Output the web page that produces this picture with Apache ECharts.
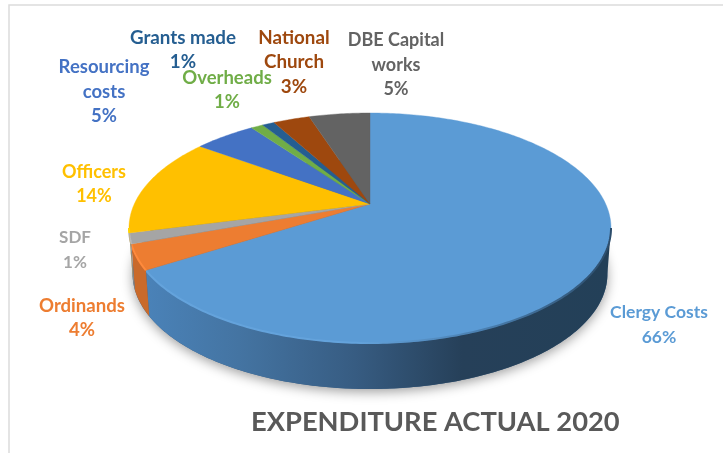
<!DOCTYPE html>
<html><head><meta charset="utf-8">
<style>html,body{margin:0;padding:0;background:#fff}#c{width:723px;height:453px}</style>
<script src="https://cdn.jsdelivr.net/npm/echarts@6/dist/echarts.min.js"></script>
</head><body><div id="c"></div>
<script>
const categories = ['Clergy Costs','Ordinands','SDF','Officers','Resourcing\ncosts','Overheads','Grants made','National\nChurch','DBE Capital\nworks'];
const values = [66, 3.5, 1.49, 14, 5, 1, 1, 3, 5];
const colors = ['#5b9bd5','#ed7d31','#a5a5a5','#ffc000','#4472c4','#70ad47','#255e91','#9e480e','#636363'];
const wallColors = ['#3f6f9e','#c96a2b','#8a8a8a','#d9a000','#3a62a8','#5f9440','#1f4f7b','#863d0c','#545454'];
const edgeColors = ['#6aa9e2','#ff8a3c','#b8b8b8','#ffd400','#4472c4','#70ad47','#255e91','#9e480e','#636363'];
const labelCenters = [[659,325],[82,318],[75,250],[94,184],[104,92],[227,90],[183,50],[294,62],[396,65]];
const labelSizes = [17.5,18.6,17,18,18.5,18.5,18.8,18.8,18];

const CX=370, AY=204, K=0.2087, A=110, B=235.7, DEPTH=46, BOTTOM_SCALE=0.985;
const total = values.reduce((a,b)=>a+b,0);
function topPt(t){const u=Math.sin(t),v=Math.cos(t),w=1+K*v;return [CX+B*u/w,AY-A*v/w];}
function botPt(t){const p=topPt(t);return [CX+(p[0]-CX)*BOTTOM_SCALE,p[1]+DEPTH];}
function arc(fn,a,b){const n=Math.max(2,Math.ceil((b-a)/0.015)),r=[];for(let i=0;i<=n;i++)r.push(fn(a+(b-a)*i/n));return r;}
const SIL_R=Math.acos(-K), SIL_L=2*Math.PI-SIL_R;

function renderItem(params,api){
  const i=params.dataIndex;
  let before=0;for(let j=0;j<i;j++)before+=values[j];
  const a0=before/total*2*Math.PI, a1=(before+api.value(0))/total*2*Math.PI;
  const kids=[];
  if(i===0){
    kids.push({type:'polygon',shape:{points:arc(botPt,0,2*Math.PI)},style:{fill:'#3a5f85',shadowBlur:12,shadowColor:'rgba(0,0,0,0.38)',shadowOffsetY:3}});
  }
  const w0=Math.max(a0,SIL_R), w1=Math.min(a1,SIL_L);
  if(w1>w0){
    const pts=arc(topPt,w0,w1).concat(arc(botPt,w0,w1).reverse());
    const fill = i===0 ? {type:'linear',x:0,y:0,x2:1,y2:0,colorStops:[
      {offset:0,color:'#4a82b8'},{offset:0.2,color:'#4474a2'},{offset:0.45,color:'#375c82'},{offset:0.68,color:'#264059'},{offset:1,color:'#234058'}]} : wallColors[i];
    kids.push({type:'polygon',shape:{points:pts},style:{fill}});
  }
  kids.push({type:'polygon',shape:{points:[[CX,AY]].concat(arc(topPt,a0,a1))},style:{fill:colors[i],stroke:colors[i],lineWidth:0.4}});
  if(w1>w0){
    const stroke = i===0 ? {type:'linear',x:0,y:0,x2:1,y2:0,colorStops:[
      {offset:0,color:'#64a3dc'},{offset:0.45,color:'#64a3dc'},{offset:0.72,color:'#4a7fb0'},{offset:1,color:'#2c4c6a'}]} : edgeColors[i];
    kids.push({type:'polyline',shape:{points:arc(topPt,w0,w1)},style:{fill:'none',stroke,lineWidth:2}});
  }
  const c=labelCenters[i];
  kids.push({type:'text',style:{text:categories[i]+'\n'+Math.round(api.value(0))+'%',x:c[0],y:c[1],align:'center',verticalAlign:'middle',
    fill:colors[i],font:'bold '+labelSizes[i]+'px Lato',lineHeight:24.5}});
  return {type:'group',children:kids};
}
const chart=echarts.init(document.getElementById('c'),null,{renderer:'canvas'});
chart.setOption({
  animation:false,
  backgroundColor:'#fff',
  title:{text:'EXPENDITURE ACTUAL 2020',left:246,top:404,textStyle:{color:'#595959',fontFamily:'Lato',fontWeight:'bold',fontSize:27.3}},
  graphic:[{type:'rect',shape:{x:9,y:5,width:800,height:600},style:{fill:'none',stroke:'#dcdcdc',lineWidth:1.5},silent:true}],
  series:[{type:'custom',coordinateSystem:'none',renderItem,data:values.map(v=>[v]),clip:false,silent:true}]
});
</script></body></html>
